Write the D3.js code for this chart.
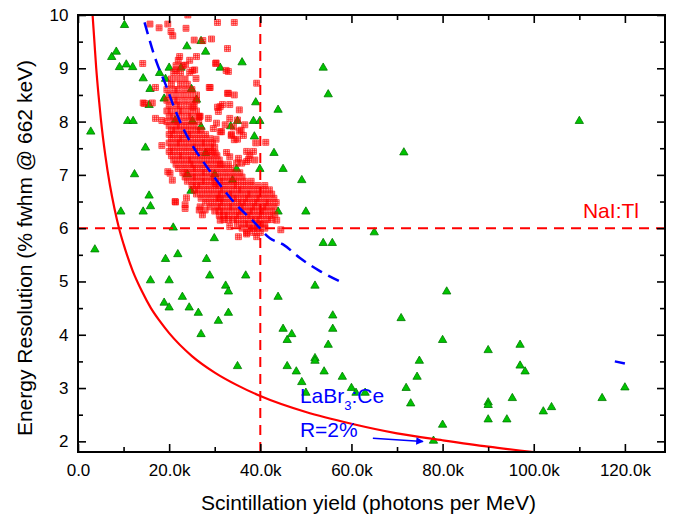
<!DOCTYPE html>
<html>
<head>
<meta charset="utf-8">
<script src="https://cdn.jsdelivr.net/npm/d3@7"></script>
<style>
body{margin:0;background:#fff;}
svg{font-family:"Liberation Sans",Arial,sans-serif;}
</style>
</head>
<body>
<svg width="675" height="515"></svg>
<script>
// Tick values
var xTicks=[0,20000,40000,60000,80000,100000,120000];
var xMinor=[10000,30000,50000,70000,90000,110000];
var yTicks=[2,3,4,5,6,7,8,9,10];
var yMinor=[2.5,3.5,4.5,5.5,6.5,7.5,8.5,9.5];

// NaI:Tl reference lines
var refYield=40000;
var refRes=6;

// Statistical limit curve (yield in k photons, resolution %)
var limitX=[3.2,3.6,4,4.5,5,6,7,8,9,10,12,14,16,18,20,25,30,35,40,50,60,70,80,90,100];
var limitY=[10.0,9.5,9.0,8.5,8.06,7.36,6.81,6.37,6.0,5.7,5.2,4.82,4.5,4.25,4.03,3.6,3.29,3.05,2.85,2.55,2.33,2.15,2.02,1.9,1.8];

// Blue dashed trend (k photons, %)
var trendX=[14.6,17.3,19.3,20.9,22.7,24.9,27.7,31.2,34.4,38.8,42.1,44.9,48.7,53,57.5];
var trendY=[9.86,9.1,8.68,8.31,7.94,7.58,7.22,6.81,6.47,6.1,5.81,5.7,5.44,5.2,5.0];
var trendX2=[117.8,120];
var trendY2=[3.5,3.46];

// Green triangles: other scintillators [k photons, %]
var otherPts=[[2.8,7.81],[10.2,9.81],[7.4,9.21],[8.4,9.31],[9.1,9.02],[10.6,9.07],[12.0,9.02],[14.3,8.81],[15.8,8.61],[15.6,8.31],
[10.9,8.01],[12.1,8.01],[14.8,7.51],[12.4,7.01],[15.6,6.61],[15.9,6.41],[9.4,6.31],[14.3,6.31],[3.7,5.6],[20.9,6.01],
[29.9,5.81],[18.9,8.43],[17.9,8.91],[19.2,8.8],[20.0,9.01],[22.6,9.01],[23.9,9.41],[27.0,9.51],[28.0,9.31],[36.0,9.11],
[31.2,9.01],[24.9,8.61],[26.0,8.41],[21.3,8.02],[25.1,8.01],[27.0,7.9],[33.5,7.91],[35.0,8.01],[38.5,8.01],[39.9,8.01],
[39.0,8.36],[43.9,8.22],[38.7,7.72],[43.0,7.41],[45.0,7.11],[39.9,7.11],[34.8,7.11],[28.0,7.41],[24.0,7.01],[30.0,7.01],
[33.9,6.9],[24.8,6.7],[49.1,6.9],[43.9,6.31],[50.0,6.31],[53.8,9.01],[54.9,8.51],[53.8,5.72],[55.8,5.72],[21.9,5.51],
[71.5,7.42],[110,8.01],[65.0,5.92],[19.2,5.42],[28.2,5.42],[15.9,5.02],[20.0,5.02],[28.9,5.11],[36.8,5.11],[32.4,4.92],
[33.0,4.81],[18.9,4.6],[20.0,4.51],[22.9,4.71],[24.4,4.51],[26.4,4.41],[33.0,4.41],[30.8,4.26],[27.0,4.01],[35.0,3.41],
[43.9,4.71],[52.0,4.92],[45.0,4.11],[45.9,3.9],[46.9,4.01],[45.9,3.41],[47.9,3.31],[49.1,3.11],[50.0,2.91],[52.0,3.56],
[52.0,3.51],[54.0,3.31],[54.9,3.81],[55.9,4.36],[55.9,4.11],[58.0,3.21],[60.0,3.0],[61.0,2.91],[63.0,2.91],[70.9,4.31],
[72.0,3.0],[73.0,2.71],[74.4,3.21],[74.9,3.51],[80.0,3.9],[80.9,4.81],[80.0,2.31],[78.0,2.01],[90.0,3.71],[90.0,2.73],
[90.0,2.68],[90.0,2.41],[94.1,2.41],[95.3,2.81],[97.0,3.81],[97.0,3.42],[98.1,3.31],[102.1,2.56],[103.9,2.64],[115.0,2.81],
[120.0,3.01],[10.8,10.08],[12.3,10.08],[13.8,10.08]];

// Red squares: scattered NaI:Tl crystals [k photons, %]
var naiScatter=[[24.1,10.0],[15.8,9.83],[17.8,9.76],[19.7,9.83],[20.4,9.69],[20.8,9.61],[23.7,9.75],[25.5,9.53],[27.4,9.52],[29.3,9.55],
[30.6,9.86],[34.3,9.86],[32.8,9.37],[30.3,9.1],[32.5,8.96],[33.0,8.94],[29.0,8.64],[33.0,8.53],[34.3,8.5],[39.2,8.72],
[14.2,9.09],[17.0,8.64],[14.6,8.34],[17.0,8.06],[18.4,8.02],[18.4,7.55],[25.2,8.27],[26.6,8.09],[30.6,8.27],[31.7,8.32],
[33.3,8.32],[35.4,8.22],[33.3,8.06],[35.0,8.03],[36.6,7.94],[35.4,7.82],[41.2,7.61],[35.0,7.67],[30.3,7.67],[33.6,7.74],
[31.5,7.81],[32.6,7.42],[37.4,7.29],[39.0,7.6],[19.7,7.06],[21.4,6.49],[20.7,6.9],[23.8,6.57],[26.6,6.34],[27.3,6.25],
[43.6,6.15],[44.5,5.97],[43.2,6.25],[39.2,5.84],[26.0,9.22],[30.2,9.09],[25.6,8.97],[25.9,8.81],[28.8,8.64],[32.8,8.53],
[31.2,8.28],[30.8,8.19],[26.8,8.1],[28.6,8.06],[30.4,7.97],[32.3,7.94],[34.1,7.9],[35.8,7.84],[29.7,7.87],[31.2,7.81],
[33.7,7.76],[36.3,7.74],[34.3,7.66],[37.0,7.44],[37.7,7.37],[38.5,7.44],[33.3,7.34],[35.2,7.31],[35.9,7.22],[37.0,7.25],
[38.8,7.28],[34.8,7.22],[31.2,7.2],[30.1,7.41],[28.6,7.44],[16.3,8.35],[14.3,8.35],[22.3,9.22],[21.5,8.96],[23.6,9.06],
[25.1,8.96],[20.2,7.03],[21.3,6.5],[23.5,6.44],[27.9,6.34],[31.2,6.15],[33.3,6.03],[35.2,5.84],[37.0,5.89],[23.5,6.37],
[26.8,6.4],[30.1,6.84],[31.2,6.56]];

// Red squares: dense band, one row per resolution value [%, [k photons...]]
var naiDense=[
 [9.15,[22,24.5]],
 [9.05,[21.5,23]],
 [8.92,[21,22.5,24.5]],
 [8.80,[20.5,22,23.5]],
 [8.70,[20.5,22.5,24]],
 [8.60,[19.5,21,22,23.5,25]],
 [8.50,[20,21.5,23,24.5,26]],
 [8.40,[19.5,21,22,23.5,25,26]],
 [8.30,[20,21.5,22.5,24,25.5]],
 [8.20,[19.5,20.5,22,23,24.5,26]],
 [8.10,[20,21,22.5,24,25,26.5]],
 [8.00,[19.5,21,22,23.5,25,26.5]],
 [7.92,[20,21.5,22.5,24,25.5]],
 [7.84,[20.5,21.5,23,24.5,26,27]],
 [7.76,[20,21,22.5,24,25,26.5,28]],
 [7.68,[20.5,22,23,24.5,26,27.5,29]],
 [7.60,[20,21.5,22.5,24,25.5,27,28,29.5]],
 [7.52,[20.5,22,23.5,25,26,27.5,29,30]],
 [7.44,[20,21,22.5,24,25.5,26.5,28,29.5]],
 [7.36,[20.5,22,23,24.5,26,27.5,29,30.5]],
 [7.28,[21,22.5,24,25,26.5,28,29.5,31]],
 [7.20,[21.5,23,24.5,25.5,27,28.5,30,31.5,33]],
 [7.12,[22,23.5,25,26,27.5,29,30.5,32,33.5]],
 [7.04,[23,24,25.5,27,28,29.5,31,32.5,34,35.5]],
 [6.96,[23.5,25,26,27.5,29,30,31.5,33,34.5,36]],
 [6.88,[24,25.5,27,28,29.5,31,32,33.5,35,36.5,38]],
 [6.80,[25,26,27,28.5,30,31,32.5,34,35,36.5,38,39.5,41]],
 [6.72,[25.5,26.5,28,29.5,31,32,33.5,35,36,37.5,39,40.5,42]],
 [6.64,[26,27.5,29,30.5,31.5,33,34,35.5,37,38,39.5,41,42.5]],
 [6.56,[27,28.5,30,31,32.5,34,35,36.5,37.5,39,40,41.5,43]],
 [6.48,[28,29.5,31,32,33.5,35,36,37,38.5,39.5,41,42,43.5]],
 [6.40,[29,30.5,31.5,33,34,35.5,36.5,38,39,40.5,41.5,43]],
 [6.32,[30,31,32,33.5,35,36,37.5,38.5,40,41,42.5]],
 [6.24,[31,32,33,34.5,35.5,37,38,39.5,40.5,42]],
 [6.16,[32,33,34,35,36.5,38,39,40,41.5,42.5]],
 [6.08,[35,36.5,37.5,39,40,41]],
 [6.00,[36,37.5,38.5,39.5,41]],
 [5.92,[37,38.5,40]]
];

// Layout of the plot box
var pLeft=78, pRight=665, pTop=15, pBottom=452;
var svg=d3.select("svg");

var xScale=d3.scaleLinear().domain([0,128800]).range([pLeft,pRight]);
var yScale=d3.scaleLinear().domain([1.8,10]).range([pBottom,pTop]);

// clip to plot area
svg.append("clipPath").attr("id","plot")
  .append("rect").attr("x",pLeft).attr("y",pTop).attr("width",pRight-pLeft).attr("height",pBottom-pTop);

var plot=svg.append("g").attr("clip-path","url(#plot)");

// green triangles (other scintillators)
plot.selectAll("path.tri")
  .data(otherPts)
  .enter()
  .append("path")
    .attr("class","tri")
    .attr("d",d3.symbol().type(d3.symbolTriangle).size(30))
    .attr("transform",d=>"translate("+xScale(d[0]*1000)+","+yScale(d[1])+")")
    .attr("fill","#00c400")
    .attr("stroke","#007a00")
    .attr("stroke-width",0.8);

// red squares (NaI:Tl)
var naiPts=naiScatter.slice();
naiDense.forEach(function(r){ r[1].forEach(function(x){ naiPts.push([x,r[0]]); }); });

var sq="M-3,-3h6v6h-6Z M-1,-3v6 M1,-3v6 M-3,-1h6 M-3,1h6";
plot.selectAll("path.sq")
  .data(naiPts)
  .enter()
  .append("path")
    .attr("class","sq")
    .attr("d",sq)
    .attr("transform",d=>"translate("+xScale(d[0]*1000)+","+yScale(d[1])+")")
    .attr("fill","rgba(255,0,0,0.35)")
    .attr("stroke","rgba(255,0,0,0.7)")
    .attr("stroke-width",0.8);

// reference dashed lines
plot.append("line")
  .attr("x1",xScale(refYield)).attr("x2",xScale(refYield))
  .attr("y1",yScale(1.8)).attr("y2",yScale(10))
  .attr("stroke","#ff0000").attr("stroke-width",2).attr("stroke-dasharray","10,7");
plot.append("line")
  .attr("x1",xScale(0)).attr("x2",xScale(128800))
  .attr("y1",yScale(refRes)).attr("y2",yScale(refRes))
  .attr("stroke","#ff0000").attr("stroke-width",2).attr("stroke-dasharray","10,7");

// statistical limit curve
var line=d3.line()
  .x(d=>xScale(d[0]*1000))
  .y(d=>yScale(d[1]))
  .curve(d3.curveMonotoneX);

plot.append("path")
  .datum(limitX.map((x,i)=>[x,limitY[i]]))
  .attr("d",line)
  .attr("fill","none").attr("stroke","#ff0000").attr("stroke-width",2.2);

// blue trend
plot.append("path")
  .datum(trendX.map((x,i)=>[x,trendY[i]]))
  .attr("d",line)
  .attr("fill","none").attr("stroke","#0000ff").attr("stroke-width",2.5)
  .attr("stroke-dasharray","12,7");
plot.append("path")
  .datum(trendX2.map((x,i)=>[x,trendY2[i]]))
  .attr("d",line)
  .attr("fill","none").attr("stroke","#0000ff").attr("stroke-width",2.5);

// Axes, all ticks pointing inward
var fmt=d=> d===0 ? "0.0" : (d/1000).toFixed(1)+"k";
function styleAxis(g,labels){
  g.select(".domain").remove();
  g.selectAll("line").attr("stroke","#000").attr("stroke-width",1.6);
  g.attr("font-size",17).attr("font-family","Liberation Sans, Arial, sans-serif");
  g.selectAll("text").attr("fill","#000");
  if(!labels) g.selectAll("text").remove();
}

svg.append("g").attr("transform","translate(0,"+pBottom+")")
  .call(d3.axisBottom(xScale).tickValues(xTicks).tickSize(-8).tickPadding(12).tickFormat(fmt))
  .call(g=>styleAxis(g,true));
svg.append("g").attr("transform","translate(0,"+pBottom+")")
  .call(d3.axisBottom(xScale).tickValues(xMinor).tickSize(-5))
  .call(g=>styleAxis(g,false));
svg.append("g").attr("transform","translate(0,"+pTop+")")
  .call(d3.axisTop(xScale).tickValues(xTicks).tickSize(-8))
  .call(g=>styleAxis(g,false));
svg.append("g").attr("transform","translate(0,"+pTop+")")
  .call(d3.axisTop(xScale).tickValues(xMinor).tickSize(-5))
  .call(g=>styleAxis(g,false));

svg.append("g").attr("transform","translate("+pLeft+",0)")
  .call(d3.axisLeft(yScale).tickValues(yTicks).tickSize(-8).tickPadding(9.5).tickFormat(d3.format("d")))
  .call(g=>styleAxis(g,true));
svg.append("g").attr("transform","translate("+pLeft+",0)")
  .call(d3.axisLeft(yScale).tickValues(yMinor).tickSize(-5))
  .call(g=>styleAxis(g,false));
svg.append("g").attr("transform","translate("+pRight+",0)")
  .call(d3.axisRight(yScale).tickValues(yTicks).tickSize(-8))
  .call(g=>styleAxis(g,false));
svg.append("g").attr("transform","translate("+pRight+",0)")
  .call(d3.axisRight(yScale).tickValues(yMinor).tickSize(-5))
  .call(g=>styleAxis(g,false));

// frame
svg.append("rect")
  .attr("x",pLeft).attr("y",pTop).attr("width",pRight-pLeft).attr("height",pBottom-pTop)
  .attr("fill","none").attr("stroke","#000").attr("stroke-width",2);

// axis titles
svg.append("text")
  .attr("x",(pLeft+pRight)/2-3)
  .attr("y",510)
  .style("text-anchor","middle")
  .style("font-size","21px")
  .text("Scintillation yield (photons per MeV)");

svg.append("text")
  .attr("transform","rotate(-90)")
  .attr("x",-248)
  .attr("y",31.5)
  .style("text-anchor","middle")
  .style("font-size","21px")
  .text("Energy Resolution (% fwhm @ 662 keV)");

// annotations
svg.append("text")
  .attr("x",xScale(110800)).attr("y",yScale(6.19))
  .attr("fill","#ff0000").style("font-size","21px")
  .text("NaI:Tl");

var lab=svg.append("text")
  .attr("x",xScale(48700)).attr("y",yScale(2.72))
  .attr("fill","#0000ff").style("font-size","21px");
lab.append("tspan").text("LaBr");
lab.append("tspan").attr("dy",7).style("font-size","13px").text("3");
lab.append("tspan").attr("dy",-7).text(":Ce");

svg.append("text")
  .attr("x",xScale(48700)).attr("y",yScale(2.08))
  .attr("fill","#0000ff").style("font-size","21px")
  .text("R=2%");

svg.append("defs").append("marker")
  .attr("id","arr").attr("viewBox","0 0 10 10").attr("refX",9).attr("refY",5)
  .attr("markerWidth",7).attr("markerHeight",5).attr("orient","auto")
  .append("path").attr("d","M0,0L10,5L0,10Z").attr("fill","#0000ff");

svg.append("line")
  .attr("x1",xScale(64700)).attr("y1",yScale(2.06))
  .attr("x2",xScale(75700)).attr("y2",yScale(1.997))
  .attr("stroke","#0000ff").attr("stroke-width",1.5)
  .attr("marker-end","url(#arr)");
</script>
</body>
</html>
